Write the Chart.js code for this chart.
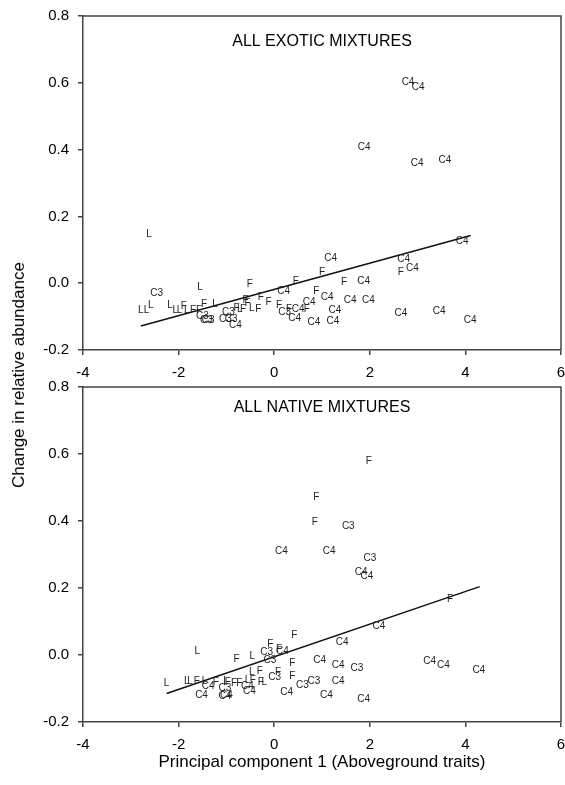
<!DOCTYPE html>
<html>
<head>
<meta charset="utf-8">
<script src="https://cdn.jsdelivr.net/npm/chart.js@4.4.0/dist/chart.umd.min.js"></script>
<style>
  body { margin: 0; background: #fff; width: 565px; height: 785px; position: relative; overflow: hidden; font-family: "Liberation Sans", Arial, sans-serif; }
  canvas { position: absolute; left: 0; }
  #topChart { top: 0; }
  #bottomChart { top: 372px; }
  #ytitle { position: absolute; left: 19px; top: 375px; transform: translate(-50%, -50%) rotate(-90deg); font-size: 17px; white-space: nowrap; color: #000; }
</style>
</head>
<body>
<canvas id="topChart" width="565" height="385"></canvas>
<canvas id="bottomChart" width="565" height="413"></canvas>
<div id="ytitle">Change in relative abundance</div>
<script>
// plant groups, one dataset each (label text is the marker)
const groups = ["C4", "F", "L", "C3"];

const xTicks = [-4, -2, 0, 2, 4, 6];
const yTicks = [-0.2, 0, 0.2, 0.4, 0.6, 0.8];

// exotic mixtures, per group in the order of `groups`
const exoticX = [
  [2.80, 3.01, 1.88, 2.99, 3.57, 3.93, 1.18, 2.71, 2.89, 1.87, 0.20, 1.11, 1.59, 1.97, 0.73, 0.50, 1.27, 2.65, 3.45, 4.10, 0.43, 0.83, 1.23, -0.81],
  [2.65, 1.00, 0.45, 1.46, -0.51, 0.88, -0.28, -0.60, -0.56, -0.12, 0.10, 0.31, 0.68, -0.33, -0.79, -0.65, -1.47, -1.89, -1.70, -1.57],
  [-2.62, -1.55, -2.79, -2.67, -2.58, -2.18, -2.07, -1.98, -1.83, -1.24, -0.72, -0.47],
  [-2.46, 0.22, -1.50, -1.42, -1.38, -0.96, -1.02, -0.90]
];
const exoticY = [
  [0.603, 0.588, 0.408, 0.360, 0.369, 0.127, 0.075, 0.073, 0.045, 0.007, -0.025, -0.042, -0.052, -0.052, -0.058, -0.078, -0.082, -0.090, -0.083, -0.110, -0.105, -0.118, -0.113, -0.125],
  [0.032, 0.032, 0.005, 0.002, -0.002, -0.023, -0.042, -0.050, -0.060, -0.057, -0.065, -0.078, -0.078, -0.078, -0.075, -0.078, -0.062, -0.068, -0.082, -0.080],
  [0.147, -0.012, -0.082, -0.082, -0.065, -0.065, -0.082, -0.082, -0.082, -0.062, -0.078, -0.075],
  [-0.030, -0.088, -0.098, -0.110, -0.110, -0.088, -0.107, -0.107]
];
const exoticFitX = [-2.79, 4.11];
const exoticFitY = [-0.128, 0.143];

// native mixtures
const nativeX = [
  [0.15, 1.15, 1.82, 1.94, 2.19, 1.42, 0.17, 0.95, 1.34, 3.25, 3.54, 4.28, 1.34, 0.26, 1.09, 1.87, -1.52, -1.38, -1.03, -1.00, -0.56, -0.52],
  [1.98, 0.88, 0.85, 3.68, 0.42, -0.08, 0.10, -0.79, 0.38, -0.30, 0.08, 0.38, -1.22, -0.97, -0.84, -0.73, -0.45, -0.28, -1.62],
  [-1.61, -0.46, -2.25, -1.83, -1.76, -1.46, -1.01, -0.56, -0.47, -0.21],
  [1.55, 2.00, -0.16, -0.09, 1.73, 0.01, 0.83, 0.59, -1.03]
];
const nativeY = [
  [0.310, 0.310, 0.247, 0.235, 0.085, 0.037, 0.010, -0.015, -0.030, -0.018, -0.030, -0.045, -0.078, -0.110, -0.120, -0.132, -0.120, -0.093, -0.123, -0.120, -0.093, -0.107],
  [0.578, 0.470, 0.396, 0.166, 0.060, 0.032, 0.017, -0.013, -0.025, -0.048, -0.050, -0.063, -0.080, -0.080, -0.083, -0.083, -0.075, -0.080, -0.078],
  [0.010, -0.005, -0.085, -0.078, -0.078, -0.078, -0.078, -0.075, -0.050, -0.080],
  [0.385, 0.289, 0.007, -0.015, -0.040, -0.067, -0.078, -0.090, -0.100]
];
const nativeFitX = [-2.25, 4.30];
const nativeFitY = [-0.115, 0.204];

const family = '"Liberation Sans", Arial, sans-serif';
Chart.defaults.font.family = family;

// draws group names at the points, the box and the panel title
const textMarks = {
  id: 'textMarks',
  afterDatasetsDraw(chart, args, opts) {
    const ctx = chart.ctx;
    const a = chart.chartArea;
    ctx.save();
    ctx.font = '10px ' + family;
    ctx.fillStyle = '#222';
    ctx.textAlign = 'center';
    ctx.textBaseline = 'middle';
    chart.data.datasets.forEach((ds, i) => {
      if (ds.isFit) return;
      chart.getDatasetMeta(i).data.forEach(pt => ctx.fillText(ds.label, pt.x, pt.y));
    });
    ctx.strokeStyle = '#444';
    ctx.lineWidth = 1.5;
    ctx.beginPath();
    ctx.moveTo(a.left, a.top);
    ctx.lineTo(a.right, a.top);
    ctx.lineTo(a.right, a.bottom);
    ctx.stroke();
    ctx.font = '16px ' + family;
    ctx.fillStyle = '#000';
    ctx.fillText(opts.text, (a.left + a.right) / 2, a.top + opts.offset);
    ctx.restore();
  }
};

function makeChart(id, xs, ys, fitX, fitY, title, titleOffset, topPad, xHeight, xTitle) {
  const datasets = groups.map((g, k) => ({
    label: g,
    data: xs[k].map((v, i) => ({ x: v, y: ys[k][i] })),
    pointRadius: 0,
    pointHoverRadius: 0
  }));
  datasets.push({
    label: 'fit',
    isFit: true,
    data: fitX.map((v, i) => ({ x: v, y: fitY[i] })),
    showLine: true,
    borderColor: '#111',
    borderWidth: 1.5,
    pointRadius: 0
  });
  return new Chart(id, {
    type: 'scatter',
    data: { datasets },
    options: {
      responsive: false,
      animation: false,
      devicePixelRatio: 1,
      layout: { padding: { top: topPad, right: 4, left: 0, bottom: 0 } },
      plugins: {
        legend: { display: false },
        tooltip: { enabled: false },
        textMarks: { text: title, offset: titleOffset }
      },
      scales: {
        x: {
          type: 'linear', min: -4, max: 6,
          afterBuildTicks: s => { s.ticks = xTicks.map(v => ({ value: v })); },
          afterFit: s => { s.height = xHeight; s.paddingLeft = 0; s.paddingRight = 0; },
          ticks: { color: '#000', font: { size: 15 }, padding: 9, maxRotation: 0, autoSkip: false, callback: v => String(v) },
          grid: { drawOnChartArea: false, color: '#444', lineWidth: 1.5, tickLength: 5 },
          border: { color: '#444', width: 1.5 },
          title: { display: !!xTitle, text: xTitle || '', color: '#000', font: { size: 17 }, padding: { top: 0, bottom: 12 } }
        },
        y: {
          type: 'linear', min: -0.2, max: 0.8,
          afterBuildTicks: s => { s.ticks = yTicks.map(v => ({ value: v })); },
          afterFit: s => { s.width = 83; s.paddingTop = 0; s.paddingBottom = 0; },
          ticks: { color: '#000', font: { size: 15 }, padding: 9, autoSkip: false, callback: v => v.toFixed(1) },
          grid: { drawOnChartArea: false, color: '#444', lineWidth: 1.5, tickLength: 5 },
          border: { color: '#444', width: 1.5 }
        }
      }
    },
    plugins: [textMarks]
  });
}

makeChart('topChart', exoticX, exoticY, exoticFitX, exoticFitY, 'ALL EXOTIC MIXTURES', 26, 16, 35, null);
makeChart('bottomChart', nativeX, nativeY, nativeFitX, nativeFitY, 'ALL NATIVE MIXTURES', 21, 15, 63, 'Principal component 1 (Aboveground traits)');
</script>
</body>
</html>
